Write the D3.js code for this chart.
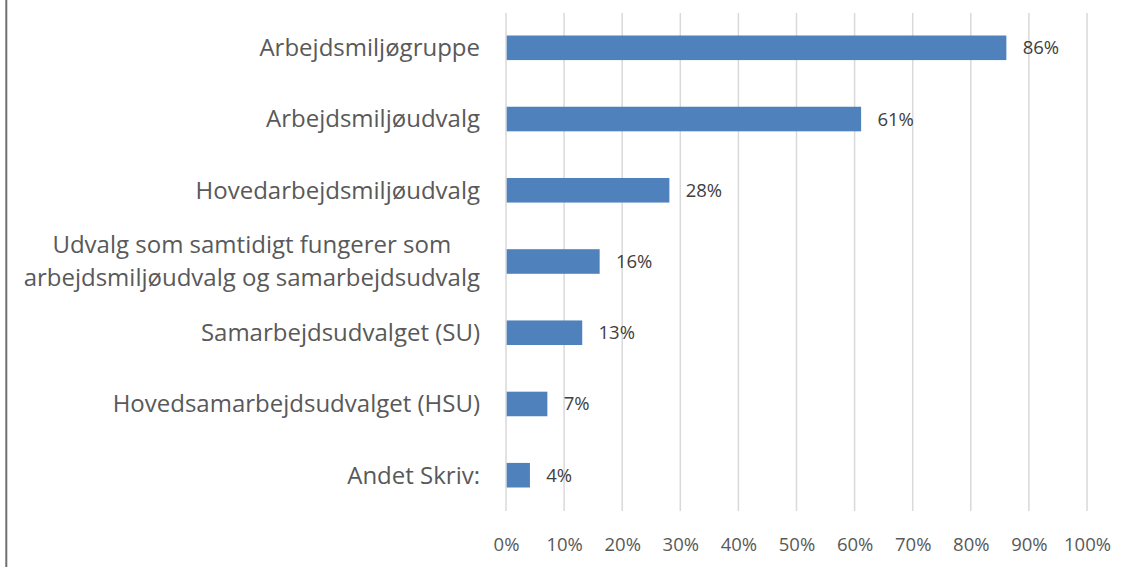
<!DOCTYPE html>
<html>
<head>
<meta charset="utf-8">
<script src="https://cdn.jsdelivr.net/npm/d3@7"></script>
<style>
  body { margin: 0; background: #fff; }
  svg { display: block; }
</style>
</head>
<body>
<script>
// Categories, top to bottom (each entry may hold several lines)
var categories = [
  ["Arbejdsmiljøgruppe"],
  ["Arbejdsmiljøudvalg"],
  ["Hovedarbejdsmiljøudvalg"],
  ["Udvalg som samtidigt fungerer som", "arbejdsmiljøudvalg og samarbejdsudvalg"],
  ["Samarbejdsudvalget (SU)"],
  ["Hovedsamarbejdsudvalget (HSU)"],
  ["Andet Skriv:"]
];
var values = [0.86, 0.61, 0.28, 0.16, 0.13, 0.07, 0.04];
var tickValues = [0, 0.1, 0.2, 0.3, 0.4, 0.5, 0.6, 0.7, 0.8, 0.9, 1.0];

var width = 1127, height = 567;
var margin = {top: 12, right: 40, bottom: 56, left: 506};

var svg = d3.select("body")
  .append("svg")
    .attr("width", width)
    .attr("height", height);

// frame line on the left
svg.append("line")
  .attr("x1", 6.3).attr("x2", 6.3)
  .attr("y1", 0).attr("y2", height)
  .attr("stroke", "#707070")
  .attr("stroke-width", 2);

var g = svg.append("g")
  .attr("transform", "translate(" + margin.left + "," + margin.top + ")");

var w = width - margin.left - margin.right,
    h = height - margin.top - margin.bottom;

var x = d3.scaleLinear().domain([0, 1]).range([0, w]);
var y = d3.scaleBand()
  .domain(d3.range(categories.length))
  .range([0, h])
  .paddingInner(0.655)
  .paddingOuter(0.33);

// gridlines
g.selectAll("line.grid")
  .data(tickValues)
  .enter().append("line")
    .attr("class", "grid")
    .attr("x1", function(d) { return x(d); })
    .attr("x2", function(d) { return x(d); })
    .attr("y1", 1)
    .attr("y2", h)
    .attr("stroke", "#d9d9d9")
    .attr("stroke-width", 1.5);

// x axis labels
var xAxis = d3.axisBottom(x)
  .tickValues(tickValues)
  .tickSize(0)
  .tickPadding(27)
  .tickFormat(d3.format(".0%"));

var ax = g.append("g")
  .attr("transform", "translate(0," + h + ")")
  .call(xAxis);
ax.select(".domain").remove();
ax.selectAll("text")
  .attr("fill", "#595959")
  .style("font-family", "'Open Sans', sans-serif")
  .style("font-size", "18.5px");

// bars
g.selectAll("rect.bar")
  .data(values)
  .enter().append("rect")
    .attr("class", "bar")
    .attr("x", x(0) + 0.7)
    .attr("y", function(d, i) { return y(i); })
    .attr("width", function(d) { return x(d) - x(0); })
    .attr("height", y.bandwidth())
    .attr("fill", "#4f81bd");

// value labels
g.selectAll("text.val")
  .data(values)
  .enter().append("text")
    .attr("class", "val")
    .attr("x", function(d) { return x(d) + 17; })
    .attr("y", function(d, i) { return y(i) + y.bandwidth() / 2; })
    .attr("dy", "0.35em")
    .attr("fill", "#404040")
    .style("font-family", "'Open Sans', sans-serif")
    .style("font-size", "18.5px")
    .text(function(d) { return d3.format(".0%")(d); });

// category labels (multi-line labels are centred as a block, block right-aligned)
var lineH = 33, labelRight = -26;
var labels = g.selectAll("text.cat")
  .data(categories)
  .enter().append("text")
    .attr("class", "cat")
    .attr("fill", "#595959")
    .style("font-family", "'Open Sans', sans-serif")
    .style("font-size", "24px");

labels.each(function(lines, i) {
  var cy = y(i) + y.bandwidth() / 2;
  var t = d3.select(this);
  var spans = lines.map(function(s, k) {
    return t.append("tspan")
      .attr("y", cy + (k - (lines.length - 1) / 2) * lineH)
      .attr("dy", "0.35em")
      .text(s);
  });
  if (lines.length === 1) {
    t.attr("text-anchor", "end");
    spans[0].attr("x", labelRight);
  } else {
    var maxW = d3.max(spans, function(sp) { return sp.node().getComputedTextLength(); });
    t.attr("text-anchor", "middle");
    spans.forEach(function(sp) { sp.attr("x", labelRight - maxW / 2); });
  }
});
</script>
</body>
</html>
